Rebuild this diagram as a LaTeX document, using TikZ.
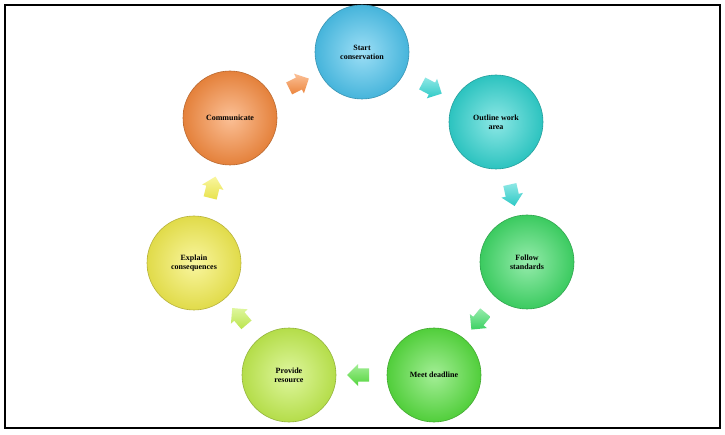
\documentclass[tikz,border=0pt]{standalone}
\usepackage{fontspec}
\setmainfont{Liberation Serif}
\usetikzlibrary{shapes.arrows,calc}
\begin{document}
\begin{tikzpicture}[x=1pt,y=-1pt,
  ball/.style={circle,minimum size=94pt,inner sep=0pt,align=center,font=\fontsize{8}{9}\selectfont\bfseries,
    inner color=#1!55!white,outer color=#1!92!black,draw=#1!75!black,line width=0.6pt},
  arr/.style={single arrow,minimum height=22pt,minimum width=22pt,single arrow head extend=4pt,inner xsep=0pt,inner ysep=6pt,
    top color=#1!55!white,bottom color=#1!95!black,draw=none}]
\useasboundingbox (0,0) rectangle (725,435);
\fill[white] (0,0) rectangle (725,435);
\draw[line width=2.2pt] (5,5) rectangle (720,428);
\definecolor{cA}{HTML}{4CC4EE}
\definecolor{cB}{HTML}{30D4D0}
\definecolor{cC}{HTML}{40DC68}
\definecolor{cD}{HTML}{58E040}
\definecolor{cE}{HTML}{C4F050}
\definecolor{cF}{HTML}{F4EE50}
\definecolor{cG}{HTML}{F88C40}
\node[ball=cA] (s) at (362,52) {Start\\conservation};
\node[ball=cB] (o) at (496,122) {Outline work\\area};
\node[ball=cC] (f) at (527,262) {Follow\\standards};
\node[ball=cD] (m) at (434,375) {Meet deadline};
\node[ball=cE] (p) at (289,375) {Provide\\resource};
\node[ball=cF] (e) at (194,263) {Explain\\consequences};
\node[ball=cG] (c) at (230,118) {Communicate};
\node[arr=cB,rotate=-27.6] (a1) at ($(s)!0.5!(o)$) {};
\node[arr=cB,rotate=-77.5] (a2) at ($(o)!0.5!(f)$) {};
\node[arr=cC,rotate=-129.5] (a3) at ($(f)!0.5!(m)$) {};
\node[arr=cD,rotate=180] (a4) at ($(m)!0.5!(p)$) {};
\node[arr=cE,rotate=130.3] (a5) at ($(p)!0.5!(e)$) {};
\node[arr=cF,rotate=76] (a6) at ($(e)!0.5!(c)$) {};
\node[arr=cG,rotate=26.6] (a7) at ($(c)!0.5!(s)$) {};
\end{tikzpicture}
\end{document}
